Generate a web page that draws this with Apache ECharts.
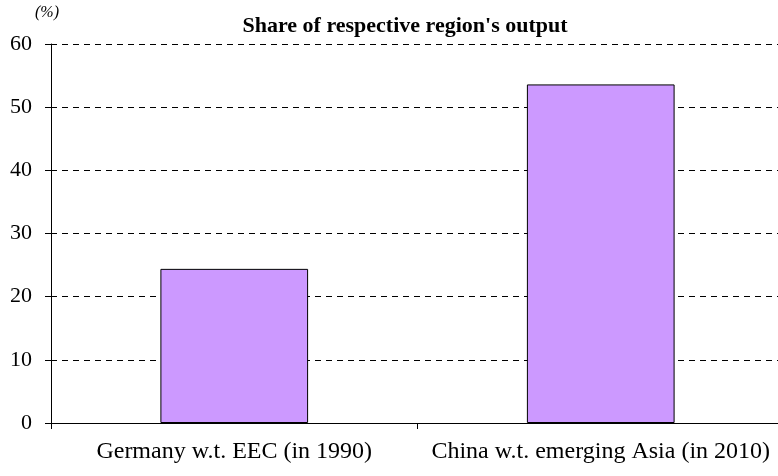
<!DOCTYPE html>
<html><head><meta charset="utf-8">
<script src="https://cdn.jsdelivr.net/npm/echarts@6/dist/echarts.min.js"></script>
<style>html,body{margin:0;padding:0;background:#fff;overflow:hidden;width:778px;height:476px}#c{width:785px;height:476px}</style>
</head><body><div id="c"></div>
<script>
const categories = ["Germany w.t. EEC (in 1990)", "China w.t. emerging Asia (in 2010)"];
const shares = [24.4, 53.6];
const yTicks = { min: 0, max: 60, interval: 10 };

const chart = echarts.init(document.getElementById('c'), null, {renderer: 'canvas'});
const serif = '"Liberation Serif", "Times New Roman", serif';
chart.setOption({
  animation: false,
  backgroundColor: '#ffffff',
  title: [{
    text: "Share of respective region's output",
    left: 400, top: 10, textAlign: 'center',
    textStyle: {fontFamily: serif, fontSize: 22, fontWeight: 'bold', color: '#000'}
  }, {
    text: '(%)', left: 30, top: 0,
    textStyle: {fontFamily: serif, fontSize: 16, fontStyle: 'italic', fontWeight: 'normal', color: '#000'}
  }],
  grid: {left: 51, right: 1, top: 44, bottom: 53},
  xAxis: {
    type: 'category', data: categories,
    axisLine: {lineStyle: {color: '#000', width: 1}},
    axisTick: {show: true, interval: 0, alignWithLabel: false, length: 6, lineStyle: {color: '#000'}},
    axisLabel: {interval: 0, hideOverlap: false, fontFamily: serif, fontSize: 24, color: '#000', margin: 17}
  },
  yAxis: {
    type: 'value', min: yTicks.min, max: yTicks.max, interval: yTicks.interval,
    axisLine: {show: true, lineStyle: {color: '#000', width: 1}},
    axisTick: {show: true, inside: false, length: 6, lineStyle: {color: '#000'}},
    axisLabel: {fontFamily: serif, fontSize: 22, color: '#000', margin: 19},
    splitLine: {show: true, lineStyle: {color: '#000', type: [6, 5], width: 1}}
  },
  series: [{
    type: 'bar', data: shares, barWidth: '40.3%',
    itemStyle: {color: '#CC99FF', borderColor: '#000', borderWidth: 1}
  }]
});
</script></body></html>
